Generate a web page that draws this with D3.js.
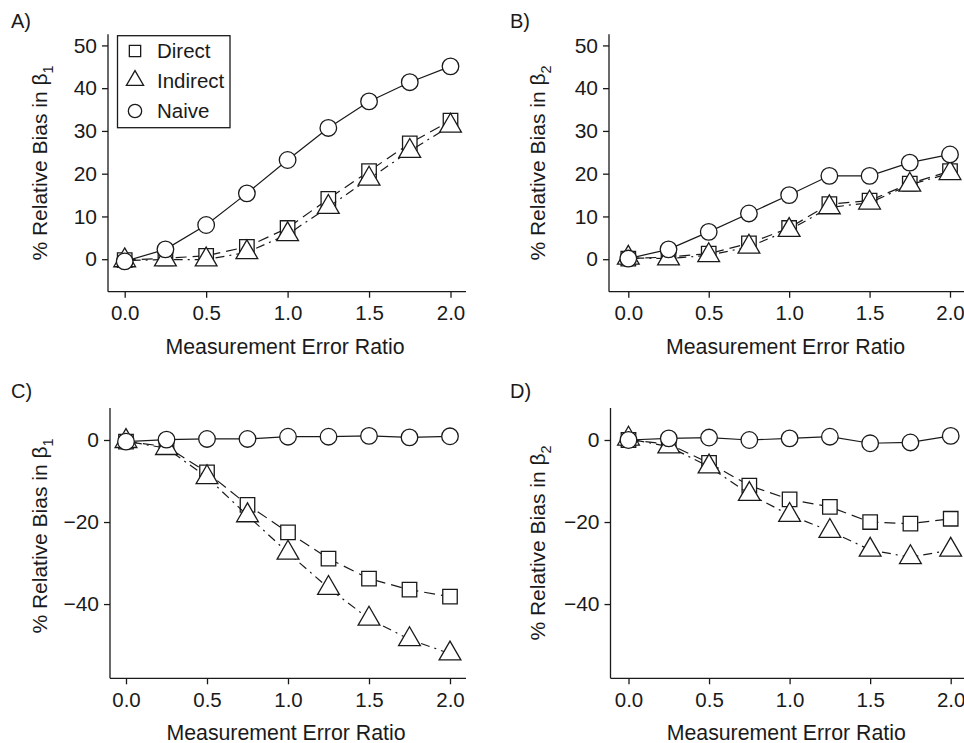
<!DOCTYPE html>
<html>
<head>
<meta charset="utf-8">
<script src="https://cdn.jsdelivr.net/npm/d3@7"></script>
<style>
  body { margin: 0; background: #fff; }
  text { font-family: "Liberation Sans", Arial, sans-serif; fill: #1a1a1a; }
</style>
</head>
<body>
<svg id="chart" width="964" height="743"></svg>
<script>
// Measurement error ratios (x values shared by every panel)
const ratios = [0, 0.25, 0.5, 0.75, 1.0, 1.25, 1.5, 1.75, 2.0];
const xTicks = [0, 0.5, 1.0, 1.5, 2.0];
const yTicksTop = [0, 10, 20, 30, 40, 50];
const yTicksBottom = [0, -20, -40];

// A) % relative bias in beta1
const directA = [-0.2, 0.2, 0.8, 2.9, 7.3, 14.1, 20.6, 27.1, 32.4];
const indirectA = [-0.3, -0.1, -0.1, 1.6, 5.8, 12.2, 18.8, 25.3, 31.2];
const naiveA = [-0.5, 2.3, 8.0, 15.4, 23.2, 30.7, 36.9, 41.4, 45.1];

// B) % relative bias in beta2
const directB = [0.15, 0.5, 1.3, 3.7, 7.3, 12.9, 13.7, 17.7, 20.6];
const indirectB = [0.3, 0.15, 0.9, 2.9, 6.8, 12.1, 13.2, 17.4, 20.1];
const naiveB = [0.15, 2.3, 6.4, 10.7, 15.0, 19.5, 19.5, 22.6, 24.5];

// C) % relative bias in beta1
const directC = [-0.4, -1.6, -7.9, -15.8, -22.5, -28.9, -33.8, -36.5, -38.2];
const indirectC = [-0.3, -2.0, -9.1, -18.4, -27.5, -36.1, -43.6, -48.6, -52.1];
const naiveC = [-0.4, 0.1, 0.25, 0.25, 0.8, 0.8, 1.0, 0.65, 0.9];

// D) % relative bias in beta2
const directD = [0, -1.0, -5.6, -11.1, -14.5, -16.3, -20.0, -20.4, -19.2];
const indirectD = [0.3, -1.6, -6.5, -13.2, -18.3, -22.2, -26.8, -28.6, -26.8];
const naiveD = [0, 0.4, 0.6, 0, 0.4, 0.8, -0.8, -0.6, 1.0];

const seriesNames = ["Direct", "Indirect", "Naive"];

const svg = d3.select("#chart");

const styles = {
  Direct: { symbol: d3.symbolSquare, size: 210, legendSize: 128, dash: "11,6" },
  Indirect: { symbol: d3.symbolTriangle, size: 205, legendSize: 128, dash: "2,5,9,5" },
  Naive: { symbol: d3.symbolCircle, size: 216, legendSize: 140, dash: null },
};

const panels = [
  {
    label: "A)", sub: "1", values: [directA, indirectA, naiveA], ticks: yTicksTop,
    labelX: 11, labelY: 28, yTitleX: 47, yTitleY: 163,
    axisX: 108, axisRight: 466, x0: 124.7, x2: 450.5,
    top: 34.3, bottom: 291.7, yDomain: [-7.6, 52.6], legend: true,
  },
  {
    label: "B)", sub: "2", values: [directB, indirectB, naiveB], ticks: yTicksTop,
    labelX: 510, labelY: 28, yTitleX: 545, yTitleY: 163,
    axisX: 609, axisRight: 970, x0: 628.3, x2: 950,
    top: 34.3, bottom: 291.7, yDomain: [-7.6, 52.6],
  },
  {
    label: "C)", sub: "1", values: [directC, indirectC, naiveC], ticks: yTicksBottom,
    labelX: 11, labelY: 398, yTitleX: 47, yTitleY: 536,
    axisX: 110, axisRight: 466, x0: 126, x2: 450,
    top: 408, bottom: 678.3, yDomain: [-58.1, 7.8],
  },
  {
    label: "D)", sub: "2", values: [directD, indirectD, naiveD], ticks: yTicksBottom,
    labelX: 510, labelY: 398, yTitleX: 545, yTitleY: 543,
    axisX: 610.5, axisRight: 970, x0: 628.5, x2: 950.7,
    top: 408, bottom: 678.3, yDomain: [-58.1, 7.8],
  },
];

const fmtTick = (d) => (d < 0 ? "\u2212" + Math.abs(d) : String(d));

panels.forEach((p) => {
  const g = svg.append("g");
  const x = d3.scaleLinear().domain([0, 2]).range([p.x0, p.x2]);
  const y = d3.scaleLinear().domain(p.yDomain).range([p.bottom, p.top]);

  // Panel letter
  g.append("text")
    .attr("x", p.labelX)
    .attr("y", p.labelY)
    .attr("font-size", 20)
    .text(p.label);

  // L-shaped axes
  g.append("line")
    .attr("x1", p.axisX).attr("x2", p.axisX)
    .attr("y1", p.top).attr("y2", p.bottom)
    .attr("stroke", "#1a1a1a").attr("stroke-width", 1.3);
  g.append("line")
    .attr("x1", p.axisX).attr("x2", p.axisRight)
    .attr("y1", p.bottom).attr("y2", p.bottom)
    .attr("stroke", "#1a1a1a").attr("stroke-width", 1.3);

  const yAxis = g.append("g")
    .attr("transform", `translate(${p.axisX},0)`)
    .call(d3.axisLeft(y).tickValues(p.ticks).tickSize(6).tickPadding(5).tickFormat(fmtTick));
  const xAxis = g.append("g")
    .attr("transform", `translate(0,${p.bottom})`)
    .call(d3.axisBottom(x).tickValues(xTicks).tickSize(6).tickPadding(8).tickFormat(d3.format(".1f")));

  [yAxis, xAxis].forEach((ax, k) => {
    ax.select(".domain").remove();
    ax.selectAll(".tick line").attr("stroke", "#1a1a1a").attr("stroke-width", 1.3);
    ax.selectAll(".tick text")
      .attr("font-size", k === 0 ? 21 : 20.5)
      .attr("font-family", "Liberation Sans, Arial, sans-serif")
      .attr("fill", "#1a1a1a");
  });

  // Axis titles
  g.append("text")
    .attr("x", (p.axisX + Math.min(p.axisRight, 966)) / 2 - 2)
    .attr("y", p.bottom + 62)
    .attr("text-anchor", "middle")
    .attr("font-size", 21.3)
    .text("Measurement Error Ratio");

  const yTitle = g.append("text")
    .attr("transform", `translate(${p.yTitleX},${p.yTitleY}) rotate(-90)`)
    .attr("text-anchor", "middle")
    .attr("font-size", 21);
  yTitle.append("tspan").text("% Relative Bias in \u03b2");
  yTitle.append("tspan").attr("dy", 6).attr("font-size", 14.5).text(p.sub);

  // Series: line then white-filled markers
  const line = d3.line()
    .x((d, i) => x(ratios[i]))
    .y((d) => y(d));

  seriesNames.forEach((name, si) => {
    const st = styles[name];
    const vals = p.values[si];
    g.append("path")
      .datum(vals)
      .attr("d", line)
      .attr("fill", "none")
      .attr("stroke", "#1a1a1a")
      .attr("stroke-width", 1.2)
      .attr("stroke-dasharray", st.dash);

    g.selectAll(`path.pt-${name}`)
      .data(vals)
      .enter()
      .append("path")
      .attr("class", `pt-${name}`)
      .attr("transform", (d, i) => `translate(${x(ratios[i])},${y(d)})`)
      .attr("d", d3.symbol().type(st.symbol).size(st.size))
      .attr("fill", "#fff")
      .attr("stroke", "#1a1a1a")
      .attr("stroke-width", 1.3);
  });

  // Legend (panel A only)
  if (p.legend) {
    const lg = g.append("g");
    lg.append("rect")
      .attr("x", 117.5).attr("y", 35.7)
      .attr("width", 112.5).attr("height", 92)
      .attr("fill", "#fff")
      .attr("stroke", "#1a1a1a")
      .attr("stroke-width", 1.3);
    const rowY = [51, 80.5, 111];
    seriesNames.forEach((name, i) => {
      lg.append("path")
        .attr("transform", `translate(135,${rowY[i]})`)
        .attr("d", d3.symbol().type(styles[name].symbol).size(styles[name].legendSize))
        .attr("fill", "#fff")
        .attr("stroke", "#1a1a1a")
        .attr("stroke-width", 1.3);
      lg.append("text")
        .attr("x", 157)
        .attr("y", rowY[i] + 7)
        .attr("font-size", 20.5)
        .text(name);
    });
  }
});
</script>
</body>
</html>
